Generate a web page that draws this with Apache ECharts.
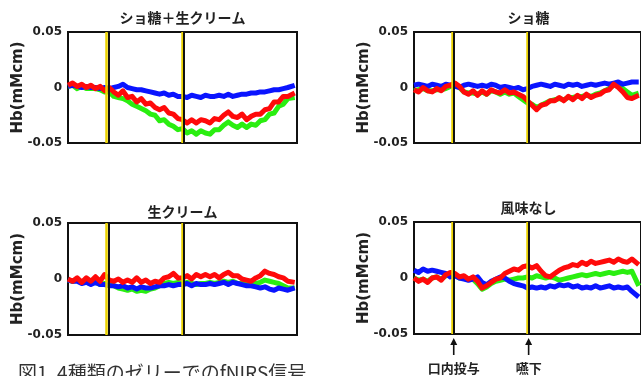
<!DOCTYPE html>
<html><head><meta charset="utf-8">
<script src="https://cdn.jsdelivr.net/npm/echarts@6/dist/echarts.min.js"></script>
<style>html,body{margin:0;padding:0;background:#fff}#c{width:641px;height:376px}</style>
</head><body><div id="c"></div>
<script>
// ---- data ----
const time = [0,2,4,6,8,10,12,14,16,18,20,22,24,26,28,30,32,34,36,38,40,42,44,46,48,50,52,54,56,58,60,62,64,66,68,70,72,74,76,78,80,82,84,86,88,90,92,94,96,99];
const panelTitles = ['ショ糖＋生クリーム','ショ糖','生クリーム','風味なし'];
const eventTimes = [17.5, 50.5];
const eventLabels = ['口内投与','嚥下'];
const yTicks = [-0.05, 0, 0.05];
const yName = 'Hb(mMcm)';
const caption = '図1. 4種類のゼリーでのfNIRS信号';

// ショ糖＋生クリーム
const scRed   = [0.002,0.004,0.001,0.003,0,0.002,-0.001,0.001,-0.003,0,-0.004,-0.007,-0.003,-0.009,-0.008,-0.013,-0.010,-0.015,-0.014,-0.018,-0.020,-0.018,-0.023,-0.024,-0.028,-0.029,-0.032,-0.029,-0.032,-0.029,-0.030,-0.032,-0.028,-0.029,-0.025,-0.022,-0.026,-0.027,-0.024,-0.029,-0.026,-0.024,-0.024,-0.020,-0.019,-0.013,-0.013,-0.008,-0.008,-0.005];
const scGreen = [0.001,0.002,-0.001,0.001,-0.001,-0.001,-0.001,-0.002,-0.004,-0.004,-0.008,-0.009,-0.010,-0.012,-0.015,-0.017,-0.019,-0.021,-0.024,-0.025,-0.030,-0.029,-0.033,-0.035,-0.038,-0.037,-0.041,-0.039,-0.042,-0.039,-0.041,-0.042,-0.038,-0.038,-0.034,-0.031,-0.034,-0.036,-0.033,-0.036,-0.033,-0.034,-0.030,-0.029,-0.024,-0.023,-0.017,-0.015,-0.010,-0.009];
const scBlue  = [0.001,0.002,0.001,0,0.001,0,0,-0.001,0,-0.001,0,0.001,0.003,0,-0.001,-0.002,-0.002,-0.003,-0.004,-0.005,-0.006,-0.005,-0.007,-0.006,-0.008,-0.008,-0.009,-0.007,-0.008,-0.009,-0.007,-0.008,-0.008,-0.007,-0.008,-0.006,-0.008,-0.007,-0.006,-0.006,-0.005,-0.005,-0.004,-0.004,-0.003,-0.002,-0.002,-0.001,0,0.002];
// ショ糖
const sRed   = [-0.002,-0.004,0,-0.003,-0.004,-0.001,-0.003,0.001,0.002,0.004,0.001,-0.004,-0.006,-0.003,-0.007,-0.003,-0.006,-0.002,-0.004,-0.005,-0.002,-0.005,-0.004,-0.006,-0.008,-0.012,-0.016,-0.020,-0.016,-0.015,-0.012,-0.012,-0.009,-0.012,-0.008,-0.011,-0.007,-0.010,-0.006,-0.009,-0.007,-0.006,-0.003,-0.002,0.003,0,-0.004,-0.009,-0.010,-0.007];
const sGreen = [-0.003,-0.002,-0.001,-0.003,-0.003,-0.002,-0.002,-0.001,0.001,0.003,0,-0.004,-0.005,-0.005,-0.006,-0.004,-0.006,-0.003,-0.004,-0.006,-0.004,-0.006,-0.005,-0.008,-0.011,-0.014,-0.015,-0.018,-0.016,-0.014,-0.012,-0.011,-0.010,-0.011,-0.009,-0.009,-0.008,-0.008,-0.007,-0.008,-0.006,-0.005,-0.003,-0.001,0.002,0.002,-0.001,-0.004,-0.007,-0.005];
const sBlue  = [0.002,0.003,0.002,0.001,0.003,0.002,0.001,0.003,0.002,0.001,0,0.002,0.003,0.002,0.001,0.002,0.001,0.003,0.002,0,0.001,0,-0.001,0,-0.002,-0.001,0.001,0.002,0.003,0.002,0.001,0.003,0.002,0.001,0.003,0.002,0.003,0.001,0.002,0.003,0.002,0.003,0.004,0.003,0.004,0.005,0.003,0.004,0.005,0.005];
// 生クリーム
const cRed   = [0,-0.002,0.001,-0.003,0.001,-0.002,0.002,-0.002,0.004,-0.001,-0.002,0,-0.003,-0.001,-0.003,0.001,-0.003,-0.001,-0.004,-0.002,-0.003,0.001,0.002,0.005,0.001,0.001,0.003,0,0.004,0.002,0.004,0.002,0.004,0.001,0.004,0.006,0.003,0.003,0,-0.001,-0.002,0.001,0.003,0.007,0.005,0.004,0.002,0.001,-0.002,-0.003];
const cGreen = [-0.001,-0.002,-0.001,-0.003,-0.003,-0.004,-0.003,-0.005,-0.004,-0.005,-0.006,-0.008,-0.009,-0.010,-0.009,-0.011,-0.010,-0.011,-0.009,-0.008,-0.006,-0.004,-0.003,-0.004,-0.003,-0.004,-0.003,-0.004,-0.005,-0.004,-0.004,-0.003,-0.004,-0.003,-0.002,-0.003,-0.002,-0.004,-0.004,-0.005,-0.005,-0.004,-0.003,-0.001,-0.002,-0.003,-0.004,-0.006,-0.008,-0.008];
const cBlue  = [-0.001,-0.002,-0.002,-0.004,-0.003,-0.005,-0.003,-0.005,-0.005,-0.006,-0.006,-0.007,-0.006,-0.008,-0.007,-0.009,-0.007,-0.008,-0.008,-0.007,-0.006,-0.006,-0.005,-0.006,-0.005,-0.005,-0.004,-0.006,-0.004,-0.005,-0.005,-0.004,-0.005,-0.004,-0.003,-0.005,-0.003,-0.004,-0.005,-0.006,-0.006,-0.007,-0.008,-0.007,-0.009,-0.010,-0.008,-0.009,-0.010,-0.008];
// 風味なし
const nRed   = [0,-0.003,-0.001,-0.004,0,0.001,-0.002,0.003,0.005,0.004,0.001,0.002,-0.001,0.001,-0.003,-0.009,-0.007,-0.004,-0.001,0,0.004,0.006,0.008,0.007,0.010,0.011,0.009,0.011,0.006,0.002,0.001,0.004,0.007,0.009,0.010,0.012,0.011,0.014,0.012,0.015,0.013,0.014,0.015,0.016,0.014,0.017,0.015,0.014,0.017,0.012];
const nGreen = [0,-0.002,-0.001,-0.003,0,0.001,-0.001,0.002,0.004,0.003,0,0.001,-0.001,-0.001,-0.005,-0.010,-0.008,-0.005,-0.003,-0.002,-0.001,-0.002,-0.001,0,0,0.001,0,0.002,0.001,0,0.001,0,-0.002,-0.001,0,0.001,0.002,0.003,0.002,0.003,0.004,0.003,0.004,0.005,0.004,0.005,0.006,0.005,0.006,-0.007];
const nBlue  = [0.007,0.005,0.008,0.006,0.007,0.006,0.005,0.004,0.001,0.002,0,-0.001,-0.002,-0.001,0.001,-0.004,-0.006,-0.003,-0.001,0.001,0,-0.003,-0.005,-0.006,-0.007,-0.009,-0.008,-0.009,-0.008,-0.009,-0.007,-0.008,-0.006,-0.007,-0.006,-0.008,-0.007,-0.009,-0.008,-0.009,-0.007,-0.009,-0.008,-0.007,-0.009,-0.008,-0.009,-0.008,-0.012,-0.017];

const panelData = [
  [scGreen, scBlue, scRed],
  [sGreen, sBlue, sRed],
  [cGreen, cBlue, cRed],
  [nGreen, nBlue, nRed]
];

// ---- layout / style ----
const grids = [
  {left: 68,  top: 32,  width: 229, height: 111},
  {left: 414, top: 32,  width: 229, height: 111},
  {left: 68,  top: 223, width: 229, height: 112},
  {left: 414, top: 222, width: 229, height: 112}
];
const titleY = [18, 18, 212, 208];
const colors = ['#2aee10', '#0a14ff', '#ff0a0a'];
const numFont = 'DejaVu Sans';
const jpFont = '"Noto Sans CJK JP", sans-serif';

const chart = echarts.init(document.getElementById('c'), null, {renderer: 'canvas'});

const option = {
  backgroundColor: '#fff',
  animation: false,
  grid: grids.map(g => Object.assign({show: true, borderColor: '#111', borderWidth: 2, backgroundColor: 'transparent'}, g)),
  xAxis: grids.map((g, i) => ({
    type: 'value', gridIndex: i, min: 0, max: 100, show: false
  })),
  yAxis: grids.map((g, i) => ({
    type: 'value', gridIndex: i, min: yTicks[0], max: yTicks[2], interval: 0.05,
    axisLine: {show: false}, axisTick: {show: false}, splitLine: {show: false},
    axisLabel: {
      margin: 6, color: '#222', fontWeight: 'bold', fontSize: 12, fontFamily: numFont,
      formatter: v => { const k = yTicks.findIndex(t => Math.abs(t - v) < 1e-9); return k >= 0 ? String(yTicks[k]) : ''; }
    }
  })),
  series: []
};

panelData.forEach((arrs, gi) => {
  arrs.forEach((vals, si) => {
    option.series.push({
      type: 'line', xAxisIndex: gi, yAxisIndex: gi, showSymbol: false, silent: true,
      data: time.map((t, k) => [t, vals[k]]),
      lineStyle: {color: colors[si], width: 5, join: 'round'},
      z: 2 + si
    });
  });
  // event lines: yellow edge + black line, drawn above the data
  option.series.push({
    type: 'line', xAxisIndex: gi, yAxisIndex: gi, data: [], silent: true, z: 10,
    markLine: {
      silent: true, symbol: 'none', label: {show: false}, animation: false,
      lineStyle: {color: '#ead200', width: 2.5, type: 'solid', opacity: 1},
      data: eventTimes.map(t => ({xAxis: t - 0.7}))
    }
  });
  option.series.push({
    type: 'line', xAxisIndex: gi, yAxisIndex: gi, data: [], silent: true, z: 11,
    markLine: {
      silent: true, symbol: 'none', label: {show: false}, animation: false,
      lineStyle: {color: '#111', width: 2, type: 'solid', opacity: 1},
      data: eventTimes.map(t => ({xAxis: t + 0.2}))
    }
  });
});

chart.setOption(option);

// ---- text annotations ----
const graphics = [];
grids.forEach((g, i) => {
  graphics.push({
    type: 'text', x: g.left + g.width / 2, y: titleY[i], z: 20,
    style: {text: panelTitles[i], fill: '#222', font: 'bold 14px ' + jpFont, textAlign: 'center', textVerticalAlign: 'middle'}
  });
  graphics.push({
    type: 'text', x: g.left - 50, y: g.top + g.height / 2, rotation: Math.PI / 2, z: 20,
    style: {text: yName, fill: '#222', font: 'bold 15px ' + numFont, textAlign: 'center', textVerticalAlign: 'middle'}
  });
});
// arrows + labels under the last panel
eventTimes.forEach((t, k) => {
  const px = chart.convertToPixel({gridIndex: 3}, [t, 0])[0];
  graphics.push({type: 'line', z: 20, shape: {x1: px, y1: 341, x2: px, y2: 355}, style: {stroke: '#111', lineWidth: 1.6}});
  graphics.push({type: 'polygon', z: 20, shape: {points: [[px, 338], [px - 3.5, 345], [px + 3.5, 345]]}, style: {fill: '#111'}});
  graphics.push({
    type: 'text', x: px, y: 368, z: 20,
    style: {text: eventLabels[k], fill: '#222', font: 'bold 13px ' + jpFont, textAlign: 'center', textVerticalAlign: 'middle'}
  });
});
graphics.push({
  type: 'text', x: 18, y: 363, z: 20,
  style: {text: caption, fill: '#333', font: '19px ' + jpFont, textAlign: 'left', textVerticalAlign: 'top'}
});
chart.setOption({graphic: graphics});
</script>
</body></html>
